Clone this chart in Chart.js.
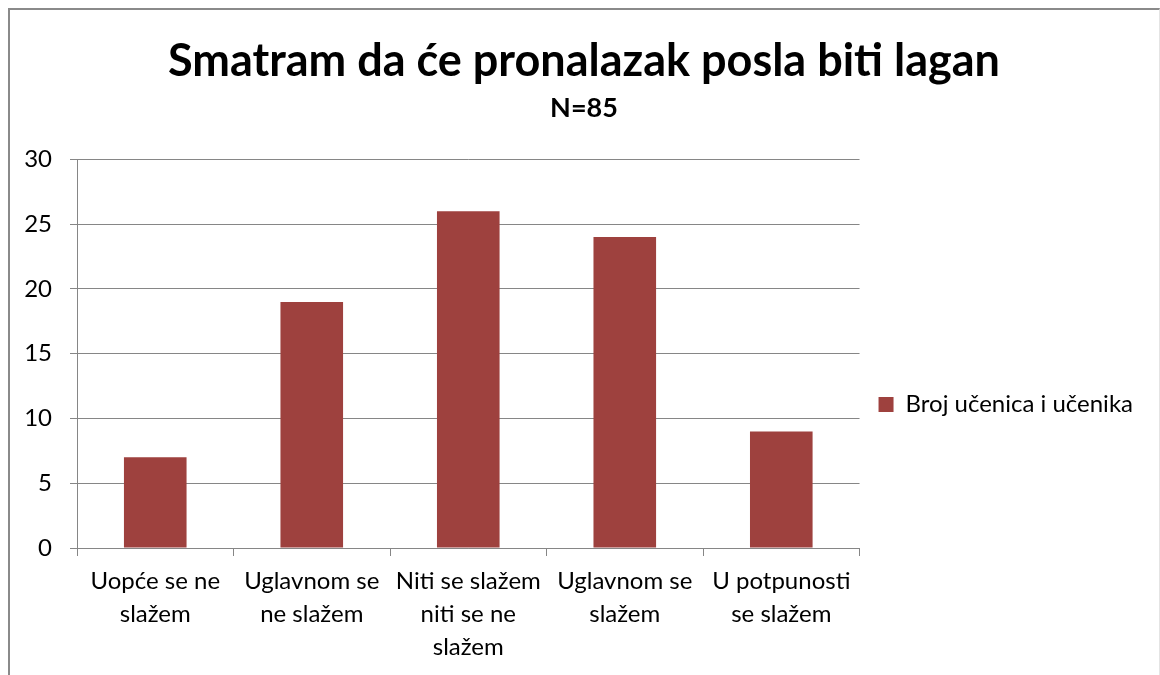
<!DOCTYPE html>
<html>
<head>
<meta charset="utf-8">
<script src="https://cdn.jsdelivr.net/npm/chart.js@4"></script>
<style>
  html, body { margin: 0; padding: 0; background: #fff; }
  #okvir {
    position: absolute; left: 8px; top: 8px;
    width: 1149px; height: 667px;
    border-left: 2px solid #8a8a8a; border-top: 2px solid #8a8a8a;
    border-right: 1px solid #e4e4e4;
  }
  #graf { display: block; }
</style>
</head>
<body>
<div id="okvir"><canvas id="graf" width="1149" height="667"></canvas></div>
<script>
"use strict"

const kategorije = [
    ["Uopće se ne", "slažem"],
    ["Uglavnom se", "ne slažem"],
    ["Niti se slažem", "niti se ne", "slažem"],
    ["Uglavnom se", "slažem"],
    ["U potpunosti", "se slažem"]
];
const brojUcenika = [7, 19, 26, 24, 9];
const yOznake = [0, 5, 10, 15, 20, 25, 30];

const font = "Lato, 'Open Sans', sans-serif";
const siva = "#868686";

let ctx = document.getElementById("graf").getContext("2d");

// naslov centriran na cijeloj slici, legenda nize od sredine grafa
const pomaci = {
    id: "pomaci",
    afterLayout(chart) {
        chart.boxes.forEach(b => {
            if (b.position === "top") {
                b.left += 13;
                b.right += 13;
            }
        });
        let l = chart.legend;
        l.top += 61;
        l.bottom += 61;
        l.left += 11;
        l.right += 11;
    }
};

new Chart(ctx, {
    type: "bar",
    data: {
        labels: kategorije,
        datasets: [{
            label: "Broj učenica i učenika",
            data: brojUcenika,
            backgroundColor: "#9E413E",
            borderWidth: 0,
            categoryPercentage: 1,
            barPercentage: 0.4
        }]
    },
    plugins: [pomaci],
    options: {
        responsive: false,
        animation: false,
        events: [],
        layout: { padding: { left: 0, right: 27, top: 0, bottom: 0 } },
        plugins: {
            title: {
                display: true,
                text: "Smatram da će pronalazak posla biti lagan",
                color: "#000",
                font: { family: font, size: 45, weight: "bold" },
                padding: { top: 24, bottom: 2 }
            },
            subtitle: {
                display: true,
                text: "N=85",
                color: "#000",
                font: { family: font, size: 27, weight: "bold" },
                padding: { top: 2, bottom: 35 }
            },
            legend: {
                position: "right",
                labels: {
                    color: "#000",
                    font: { family: font, size: 24 },
                    boxWidth: 15,
                    boxHeight: 15,
                    padding: 8
                }
            },
            tooltip: { enabled: false }
        },
        scales: {
            x: {
                grid: {
                    offset: true,
                    drawOnChartArea: false,
                    color: siva,
                    tickLength: 8
                },
                border: { color: siva, width: 1 },
                ticks: {
                    color: "#000",
                    font: { family: font, size: 24, lineHeight: 1.375 },
                    maxRotation: 0,
                    autoSkip: false,
                    padding: 9
                },
                afterFit: s => { s.height = 129; }
            },
            y: {
                min: 0,
                max: 30,
                afterBuildTicks: s => { s.ticks = yOznake.map(v => ({ value: v })); },
                grid: { color: siva, tickLength: 7 },
                border: { color: siva, width: 1 },
                ticks: {
                    color: "#000",
                    font: { family: font, size: 24 },
                    padding: 18
                },
                afterFit: s => { s.width = 67; }
            }
        }
    }
});
</script>
</body>
</html>
